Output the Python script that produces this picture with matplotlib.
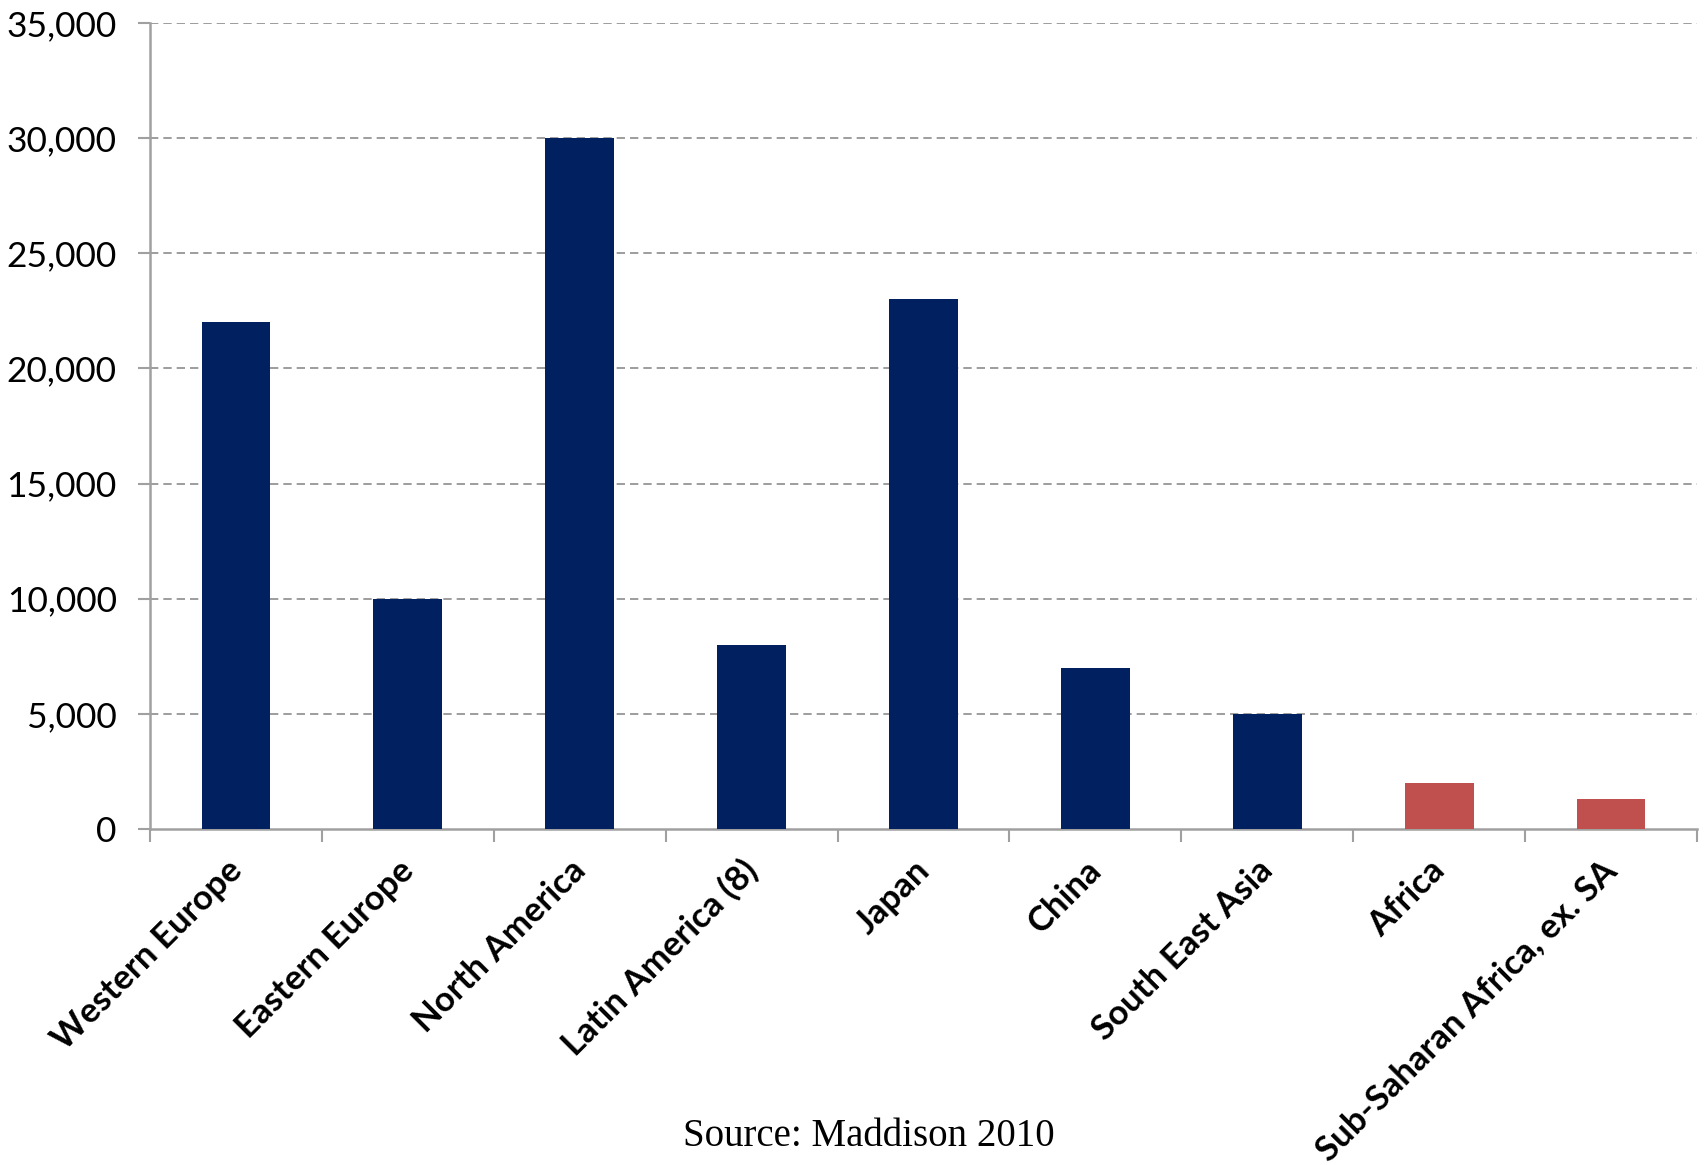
import matplotlib
matplotlib.use("Agg")
import matplotlib.pyplot as plt
import matplotlib.transforms as mtransforms
import numpy as np

# GDP per capita by region (Maddison 2010)
regions = [
    "Western Europe", "Eastern Europe", "North America", "Latin America (8)",
    "Japan", "China", "South East Asia", "Africa", "Sub-Saharan Africa, ex. SA",
]
gdp_per_capita = [22000, 10000, 30000, 8000, 23000, 7000, 5000, 2000, 1300]
highlight = [False, False, False, False, False, False, False, True, True]
y_ticks = [0, 5000, 10000, 15000, 20000, 25000, 30000, 35000]

NAVY = "#002060"
RED = "#C0504D"
GREY = "#8c8c8c"

fig = plt.figure(figsize=(17.07, 11.65), dpi=100)
ax = fig.add_axes([150 / 1707, 1 - 829 / 1165, (1697 - 150) / 1707, (829 - 23) / 1165])

x = np.arange(len(regions))
colors = [RED if h else NAVY for h in highlight]
ax.bar(x, gdp_per_capita, width=0.40, color=colors, zorder=3)

ax.set_xlim(-0.5, len(regions) - 0.5)
ax.set_ylim(0, 35000)
ax.set_yticks(y_ticks)
ax.set_yticklabels([f"{v:,}" for v in y_ticks], family="Lato", fontsize=25.5)

for v in y_ticks[1:]:
    ax.axhline(v, color=GREY, lw=1.2, ls=(0, (5, 3)), zorder=1)

ax.set_xticks(x)
ax.set_xticklabels(regions, rotation=45, ha="right", va="top",
                   family="Lato", fontweight="bold", fontsize=25)
ax.tick_params(axis="x", which="major", length=0, pad=18)
# nudge the rotated labels a little to the right, like the original
shift = mtransforms.ScaledTranslation(12 / 100, 0, fig.dpi_scale_trans)
for lbl in ax.get_xticklabels():
    lbl.set_transform(lbl.get_transform() + shift)
ax.set_xticks(np.arange(-0.5, len(regions), 1.0), minor=True)
ax.tick_params(axis="x", which="minor", length=9, width=1.5, color="#a0a0a0", direction="out")
ax.tick_params(axis="y", length=9, width=1.5, color="#a0a0a0", pad=15)

for side in ("top", "right"):
    ax.spines[side].set_visible(False)
for side in ("left", "bottom"):
    ax.spines[side].set_color("#a0a0a0")
    ax.spines[side].set_linewidth(1.8)

fig.text(869 / 1707, 1 - 1136 / 1165, "Source: Maddison 2010", ha="center", va="center",
         family="Liberation Serif", fontsize=28)

fig.savefig("out.png", dpi=100)
